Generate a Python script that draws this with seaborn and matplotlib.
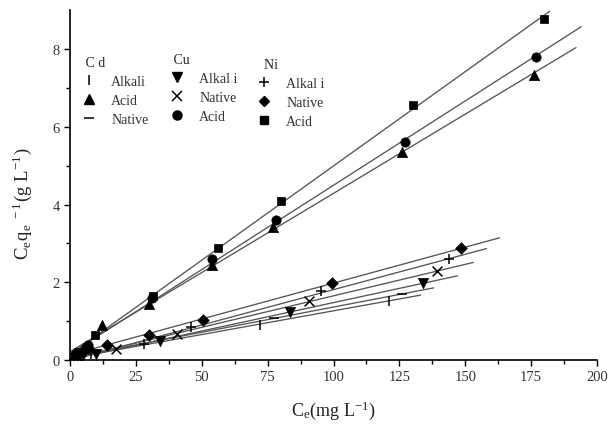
import numpy as np
import pandas as pd
import matplotlib
matplotlib.use("Agg")
import matplotlib.pyplot as plt
from matplotlib.lines import Line2D
from matplotlib.legend import Legend
import seaborn as sns

# ---- data ----
cd_alkali_x = [3, 8, 72, 121]
cd_alkali_y = [0.08, 0.15, 0.91, 1.53]
cd_acid_x = [2, 5, 12, 30, 54, 77, 126, 176]
cd_acid_y = [0.15, 0.30, 0.90, 1.44, 2.45, 3.43, 5.35, 7.33]
cd_native_x = [4, 9, 77.5, 126]
cd_native_y = [0.10, 0.20, 1.07, 1.70]

cu_alkali_x = [5, 10, 34, 83.5, 134]
cu_alkali_y = [0.12, 0.15, 0.48, 1.24, 1.98]
cu_native_x = [3, 17.4, 40.7, 90.6, 139.3]
cu_native_y = [0.10, 0.29, 0.68, 1.52, 2.28]
cu_acid_x = [2, 7, 31, 54, 78, 127, 177]
cu_acid_y = [0.15, 0.38, 1.60, 2.60, 3.61, 5.62, 7.80]

ni_alkali_x = [4, 28, 46, 95.3, 144]
ni_alkali_y = [0.10, 0.42, 0.85, 1.77, 2.59]
ni_native_x = [7, 13.9, 29.8, 50.4, 99.5, 148.3]
ni_native_y = [0.30, 0.39, 0.65, 1.03, 1.98, 2.88]
ni_acid_x = [3, 9.5, 31.4, 56, 80, 130, 180]
ni_acid_y = [0.20, 0.64, 1.64, 2.88, 4.08, 6.56, 8.77]

# x where each fitted line ends
fit_end = {
    "cd_alkali": 133, "cd_acid": 192, "cd_native": 138,
    "cu_alkali": 147, "cu_native": 153, "cu_acid": 194,
    "ni_alkali": 158, "ni_native": 163, "ni_acid": 182,
}

series = [
    ("cd_alkali", cd_alkali_x, cd_alkali_y, "|", 60, "Alkali"),
    ("cd_acid", cd_acid_x, cd_acid_y, "^", 55, "Acid"),
    ("cd_native", cd_native_x, cd_native_y, "_", 60, "Native"),
    ("cu_alkali", cu_alkali_x, cu_alkali_y, "v", 55, "Alkal i"),
    ("cu_native", cu_native_x, cu_native_y, "x", 50, "Native"),
    ("cu_acid", cu_acid_x, cu_acid_y, "o", 45, "Acid"),
    ("ni_alkali", ni_alkali_x, ni_alkali_y, "+", 60, "Alkal i"),
    ("ni_native", ni_native_x, ni_native_y, "D", 35, "Native"),
    ("ni_acid", ni_acid_x, ni_acid_y, "s", 40, "Acid"),
]

sns.set_style("ticks")
plt.rcParams["font.family"] = ["Liberation Serif", "DejaVu Serif"]
plt.rcParams["mathtext.fontset"] = "stix"

fig = plt.figure(figsize=(6.10, 4.31), dpi=100)
ax = fig.add_axes([0.1148, 0.1624, 0.864, 0.8116])

line_color = "#555555"
for key, xs, ys, mk, size, lab in series:
    xs = np.asarray(xs, float)
    ys = np.asarray(ys, float)
    k, b = np.polyfit(xs, ys, 1)
    fx = np.array([0.0, fit_end[key]])
    fit_df = pd.DataFrame({"x": fx, "y": k * fx + b})
    sns.lineplot(data=fit_df, x="x", y="y", ax=ax, color=line_color,
                 linewidth=0.95, zorder=2)
    df = pd.DataFrame({"x": xs, "y": ys})
    if mk in ("|", "_", "+", "x"):
        sns.scatterplot(data=df, x="x", y="y", ax=ax, marker=mk, s=size,
                        color="black", linewidth=1.1, zorder=3)
    else:
        sns.scatterplot(data=df, x="x", y="y", ax=ax, marker=mk, s=size,
                        color="black", edgecolor="black", linewidth=0.5,
                        zorder=3)

ax.set_xlim(0, 200)
ax.set_ylim(0, 9)
ax.set_xticks(np.arange(0, 201, 25))
ax.set_xticks(np.arange(0, 201, 12.5), minor=True)
ax.set_yticks([0, 2, 4, 6, 8])
ax.set_yticks([1, 3, 5, 7], minor=True)
ax.tick_params(axis="both", which="major", labelsize=10.5, length=4,
               width=1.0, direction="out", color="black", labelcolor="#333333")
ax.tick_params(axis="both", which="minor", length=3, width=1.0,
               direction="out", color="black")
for s in ("top", "right"):
    ax.spines[s].set_visible(False)
for s in ("left", "bottom"):
    ax.spines[s].set_linewidth(1.2)
    ax.spines[s].set_color("black")

ax.set_xlabel(r"C$_\mathregular{e}$(mg L$^\mathregular{-1}$)", fontsize=13,
              color="#222222", labelpad=11)
ax.set_ylabel(r"C$_\mathregular{e}$q$_\mathregular{e}$$^\mathregular{\ -1}$(g L$^\mathregular{-1}$)",
              fontsize=13.5, color="#222222")
ax.yaxis.set_label_coords(-0.068, 0.45)

# ---- legends (three groups) ----
def make_handles(items):
    hs = []
    for key, xs, ys, mk, size, lab in items:
        if mk in ("|", "_", "+", "x"):
            hs.append(Line2D([], [], linestyle="none", marker=mk, color="black",
                             markersize=6.5, markeredgewidth=1.1, label=lab))
        else:
            hs.append(Line2D([], [], linestyle="none", marker=mk, color="black",
                             markersize=6.5 if mk not in ("D", "s") else 5.5,
                             label=lab))
    return hs

groups = [(" C d", series[0:3], (0.023, 0.869)),
          (" Cu", series[3:6], (0.190, 0.877)),
          ("  Ni", series[6:9], (0.355, 0.863))]
for title, items, anchor in groups:
    hs = make_handles(items)
    leg = Legend(ax, hs, [h.get_label() for h in hs], title=title,
                 loc="upper left", bbox_to_anchor=anchor, frameon=False,
                 fontsize=10, title_fontsize=10, handlelength=1.0,
                 handletextpad=1.1, labelspacing=0.42, borderpad=0,
                 borderaxespad=0, alignment="left")
    for t in leg.get_texts():
        t.set_color("#333333")
    ax.add_artist(leg)

fig.savefig("out.png", dpi=100)
